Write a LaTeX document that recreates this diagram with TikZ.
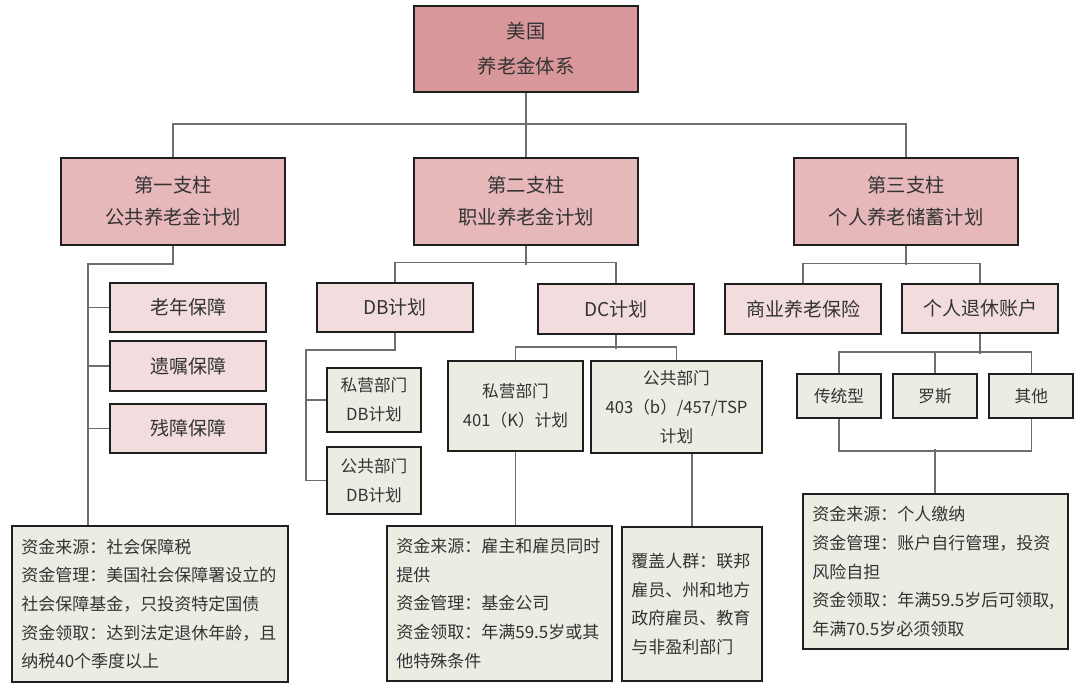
\documentclass[tikz,border=0pt]{standalone}
\usepackage{fontspec}
\newfontfamily\cjk{Noto Sans CJK SC}
\usepackage{xcolor}
\usetikzlibrary{positioning,calc}
\definecolor{rootpink}{HTML}{D8979A}
\definecolor{pillarpink}{HTML}{E7B8BA}
\definecolor{subpink}{HTML}{F2DCDE}
\definecolor{paper}{HTML}{EDECE3}
\definecolor{ink}{HTML}{333333}
\definecolor{wire}{HTML}{6E6E6E}
\tikzset{
    box/.style={draw=black!88,line width=1.6pt,rectangle,inner sep=0pt,text=ink,align=center,font=\cjk\fontsize{12.5}{21.75}\selectfont},
    pillar/.style={box,fill=pillarpink,minimum width=168pt,minimum height=65.25pt,font=\cjk\fontsize{14.5}{24}\selectfont},
    branch/.style={box,fill=subpink,minimum width=117pt,minimum height=37pt,font=\cjk\fontsize{14.25}{18}\selectfont},
    leaf/.style={box,fill=paper},
    note/.style={leaf,align=left,inner xsep=7pt,font=\cjk\fontsize{12.75}{21.5}\selectfont},
}

\begin{document}
\begin{tikzpicture}[x=0.75pt,y=-0.75pt,link/.style={draw=wire,line width=1.1pt}]
    \useasboundingbox (0,0) rectangle (1080,691);

    \node[pillar,fill=rootpink,minimum height=64.5pt,font=\cjk\fontsize{14.5}{26.25}\selectfont] (usa) at (526,49) {美国\\养老金体系};
    \node[pillar] (p1) at (173,201.5) {第一支柱\\公共养老金计划};
    \node[pillar] (p2) at (526,201.5) {第二支柱\\职业养老金计划};
    \node[pillar] (p3) at (906,201.5) {第三支柱\\个人养老储蓄计划};

    \node[branch] (a1) at (188,307.5) {老年保障};
    \node[branch] (a2) [below=5.25pt of a1] {遗嘱保障};
    \node[branch] (a3) [below=8.25pt of a2] {残障保障};
    \node[branch] (db) at (395,307.5) {DB计划};
    \node[branch] (dc) at (616,309) {DC计划};
    \node[branch] (biz) at (803,309) {商业养老保险};
    \node[branch] (ira) at (980,308.5) {个人退休账户};

    \node[leaf,minimum width=70.5pt,minimum height=48pt] (b1) at (374,400) {私营部门\\DB计划};
    \node[leaf,minimum width=70.5pt,minimum height=50.25pt] (b2) [below=9.75pt of b1] {公共部门\\DB计划};
    \node[leaf,minimum width=101.25pt,minimum height=67.5pt] (c1) at (515.5,406) {私营部门\\401（K）计划};
    \node[leaf,minimum width=128.25pt,minimum height=69pt] (c2) at (676.5,407) {公共部门\\403（b）/457/TSP\\计划};
    \node[leaf,minimum width=63pt,minimum height=33pt] (r1) at (839,396) {传统型};
    \node[leaf,minimum width=63pt,minimum height=33pt] (r2) [right=7.5pt of r1] {罗斯};
    \node[leaf,minimum width=63pt,minimum height=33pt] (r3) [right=7.5pt of r2] {其他};

    \node[note,text width=193pt,minimum height=117pt] (n1) at (150,604) {资金来源：社会保障税\\资金管理：美国社会保障署设立的\\社会保障基金，只投资特定国债\\资金领取：达到法定退休年龄，且\\纳税40个季度以上};
    \node[note,text width=154.75pt,minimum height=116.25pt] (n2) at (499.5,603.5) {资金来源：雇主和雇员同时\\提供\\资金管理：基金公司\\资金领取：年满59.5岁或其\\他特殊条件};
    \node[note,text width=91pt,minimum height=115.5pt] (n3) at (692,604) {覆盖人群：联邦\\雇员、州和地方\\政府雇员、教育\\与非盈利部门};
    \node[note,text width=184.75pt,minimum height=116.25pt] (n4) at (935.5,571.5) {资金来源：个人缴纳\\资金管理：账户自行管理，投资\\风险自担\\资金领取：年满59.5岁后可领取,\\年满70.5岁必须领取};

    \draw[link] (usa) -- (p2);
    \draw[link] (p1.north) -- +(0,-33) -| (p3.north);

    \coordinate (k1) at (88,264);
    \draw[link] (p1.south) |- (k1) -- (k1 |- n1.north);
    \draw[link] (k1 |- a1.west) -- (a1.west) (k1 |- a2.west) -- (a2.west) (k1 |- a3.west) -- (a3.west);

    \draw[link] (p2.south) -- +(0,19);
    \draw[link] (db.north) -- +(0,-19) -| (dc.north);
    \coordinate (k2) at (306,350);
    \draw[link] (db.south) |- (k2) |- (b2.west);
    \draw[link] (k2 |- b1.west) -- (b1.west);
    \draw[link] (dc.south) -- +(0,14);
    \draw[link] (c1.north) -- +(0,-13) -| (c2.north);
    \draw[link] (c1.south) -- (c1.south |- n2.north);
    \draw[link] (n3.north) -- (n3.north |- c2.south);

    \draw[link] (p3.south) -- +(0,19);
    \draw[link] (biz.north) -- +(0,-20) -| (ira.north);
    \draw[link] (ira.south) -- +(0,20);
    \draw[link] (r1.north) -- +(0,-21) -| (r3.north);
    \draw[link] (r2.north) -- +(0,-21);
    \draw[link] (r1.south) -- +(0,32) -| (r3.south);
    \draw[link] (r2.south |- n4.north) -- +(0,-44);
\end{tikzpicture}
\end{document}
